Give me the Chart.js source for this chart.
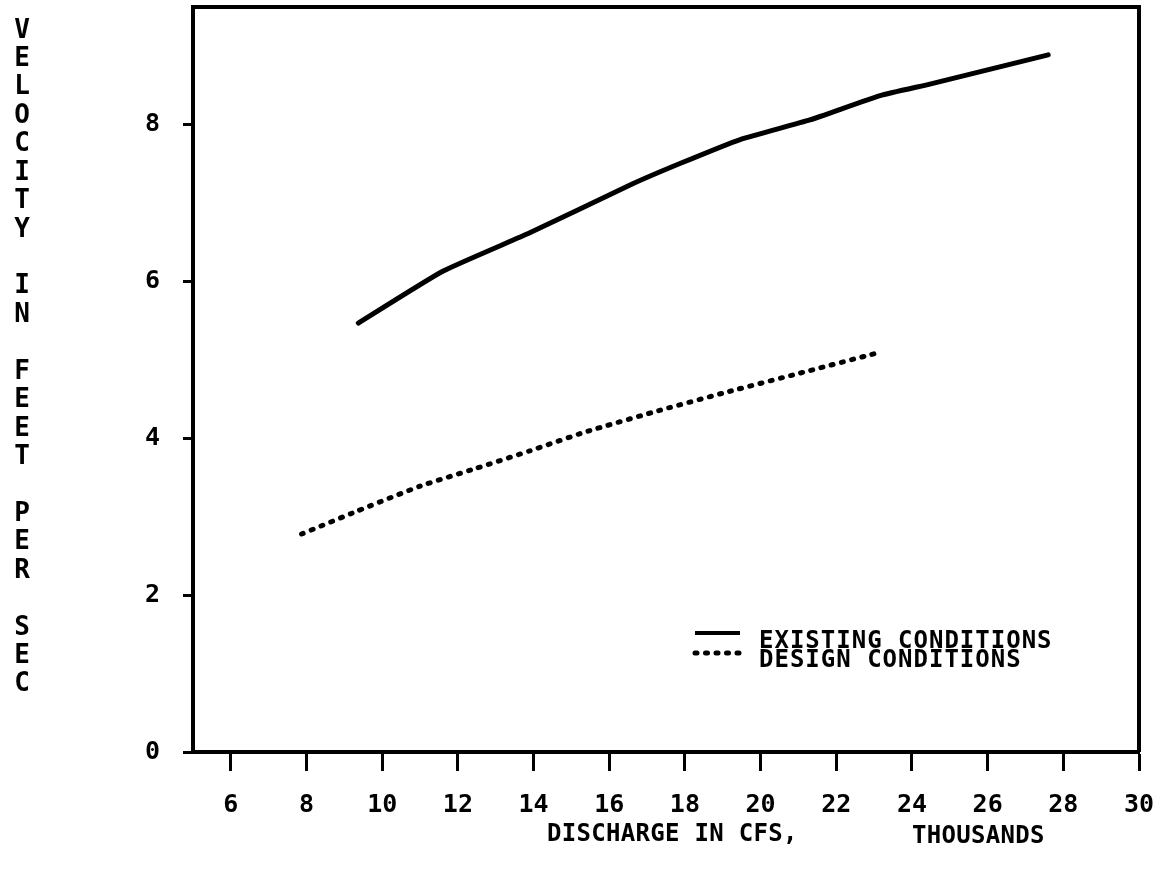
<!DOCTYPE html>
<html>
<head>
<meta charset="utf-8">
<script src="https://cdn.jsdelivr.net/npm/chart.js"></script>
<style>
  html, body { margin: 0; padding: 0; background: #fff; }
  #chart { display: block; }
</style>
</head>
<body>
<canvas id="chart" width="1157" height="877"></canvas>
<script>
// discharge in thousands of cfs, velocity in ft/s
const xTicks = [6, 8, 10, 12, 14, 16, 18, 20, 22, 24, 26, 28, 30];
const yTicks = [0, 2, 4, 6, 8];

const existingQ = [9.37, 11.6, 13.9, 16.55, 17.9, 19.46, 21.3, 23.16, 24.5, 27.6];
const existingV = [5.47, 6.13, 6.62, 7.23, 7.51, 7.81, 8.06, 8.37, 8.52, 8.89];

const designQ = [7.87, 9.33, 11.0, 12.5, 13.9, 15.36, 17.43, 19.19, 20.95, 23.02];
const designV = [2.78, 3.07, 3.39, 3.62, 3.84, 4.08, 4.37, 4.6, 4.82, 5.08];

const seriesLabels = ["EXISTING CONDITIONS", "DESIGN CONDITIONS"];
const yTitle = "VELOCITY IN FEET PER SEC";
const xTitle = "DISCHARGE IN CFS,";
const xUnits = "THOUSANDS";

const FONT = "'DejaVu Sans Mono', 'Liberation Mono', monospace";
const dotted = [2, 8.5];

const toPoints = (xs, ys) => xs.map((x, i) => ({ x: x, y: ys[i] }));

// frame on top/right, stacked y title, x title, legend
const decorations = {
  id: "decorations",
  afterDraw(chart) {
    const ctx = chart.ctx;
    const area = chart.chartArea;
    ctx.save();
    ctx.strokeStyle = "#000";
    ctx.lineWidth = 4;
    ctx.beginPath();
    ctx.moveTo(area.left - 2, area.top);
    ctx.lineTo(area.right, area.top);
    ctx.lineTo(area.right, area.bottom);
    ctx.stroke();

    ctx.fillStyle = "#000";
    ctx.textAlign = "center";
    ctx.textBaseline = "alphabetic";
    ctx.font = "bold 26px " + FONT;
    yTitle.split("").forEach((ch, i) => {
      if (ch !== " ") ctx.fillText(ch, 22, 28 + i * 28.43 + 9.5);
    });

    ctx.textAlign = "left";
    ctx.font = "bold 24px " + FONT;
    ctx.letterSpacing = "0.3px";
    ctx.fillText(xTitle, 547, 841);
    ctx.fillText(xUnits, 912, 843);

    // legend
    ctx.letterSpacing = "1px";
    const rows = [
      { y: 633, text: 647.5, dash: [] },
      { y: 653, text: 667, dash: dotted },
    ];
    chart.data.datasets.forEach((ds, i) => {
      const r = rows[i];
      ctx.beginPath();
      ctx.setLineDash(r.dash);
      ctx.lineCap = r.dash.length ? "round" : "butt";
      ctx.lineWidth = r.dash.length ? 5 : 4;
      ctx.moveTo(695, r.y);
      ctx.lineTo(740, r.y);
      ctx.stroke();
      ctx.setLineDash([]);
      ctx.fillText(ds.label, 759, r.text);
    });
    ctx.restore();
  },
};

const ctx = document.getElementById("chart");

new Chart(ctx, {
  type: "line",
  data: {
    datasets: [
      {
        label: seriesLabels[0],
        data: toPoints(existingQ, existingV),
        borderColor: "#000",
        borderWidth: 5,
        pointRadius: 0,
        tension: 0.15,
        borderCapStyle: "round",
        fill: false,
      },
      {
        label: seriesLabels[1],
        data: toPoints(designQ, designV),
        borderColor: "#000",
        borderWidth: 5,
        borderDash: dotted,
        borderCapStyle: "round",
        pointRadius: 0,
        tension: 0.15,
        fill: false,
      },
    ],
  },
  options: {
    responsive: false,
    animation: false,
    layout: { padding: { top: 7, right: 18, left: 0, bottom: 0 } },
    plugins: {
      legend: { display: false },
      tooltip: { enabled: false },
    },
    scales: {
      x: {
        type: "linear",
        min: 5,
        max: 30,
        afterBuildTicks: (scale) => {
          scale.ticks = xTicks.map((v) => ({ value: v }));
        },
        afterFit: (scale) => {
          scale.height = 125;
          scale.paddingLeft = 0;
          scale.paddingRight = 0;
        },
        border: { display: true, color: "#000", width: 4 },
        grid: {
          drawOnChartArea: false,
          drawTicks: true,
          tickLength: 19,
          tickWidth: 3,
          tickColor: "#000",
          color: "#000",
        },
        ticks: {
          color: "#000",
          maxRotation: 0,
          autoSkip: false,
          padding: 19,
          font: { family: FONT, size: 25, weight: "bold" },
        },
      },
      y: {
        type: "linear",
        min: 0,
        max: 9.5,
        afterBuildTicks: (scale) => {
          scale.ticks = yTicks.map((v) => ({ value: v }));
        },
        afterFit: (scale) => {
          scale.width = 193;
          scale.paddingTop = 0;
          scale.paddingBottom = 0;
        },
        border: { display: true, color: "#000", width: 4 },
        grid: {
          drawOnChartArea: false,
          drawTicks: true,
          tickLength: 10,
          tickWidth: 3,
          tickColor: "#000",
          color: "#000",
        },
        ticks: {
          color: "#000",
          padding: 23,
          font: { family: FONT, size: 25, weight: "bold" },
        },
      },
    },
  },
  plugins: [decorations],
});
</script>
</body>
</html>
